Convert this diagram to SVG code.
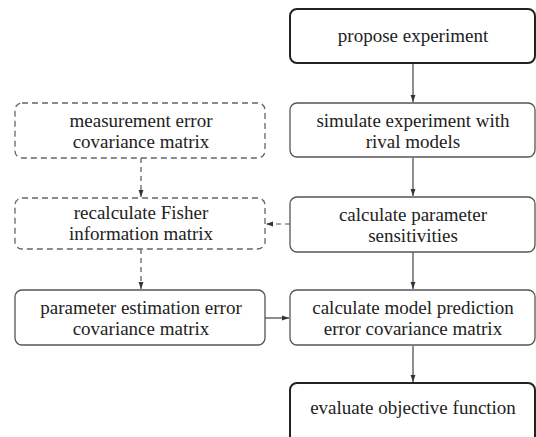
<svg xmlns="http://www.w3.org/2000/svg" width="536" height="437" viewBox="0 0 536 437">
<style>
text{font-family:'Liberation Serif','Times New Roman',serif;font-size:19px;fill:#222;text-anchor:middle}
.box{fill:#fff;stroke:#555;stroke-width:1.3}
.thick{fill:#fff;stroke:#222;stroke-width:2}
.dash{fill:#fff;stroke:#666;stroke-width:1.3;stroke-dasharray:6 4}
.c{fill:none;stroke:#444;stroke-width:1.2}
.cd{fill:none;stroke:#555;stroke-width:1.2;stroke-dasharray:5 4}
</style>
<defs>
<marker id="ah" viewBox="0 0 10 10" refX="10" refY="5" markerWidth="7" markerHeight="7" orient="auto" markerUnits="userSpaceOnUse">
<path d="M0,1.5 L10,5 L0,8.5 Z" fill="#333"/>
</marker>
</defs>
<rect width="536" height="437" fill="#fff"/>
<g id="connectors">
<line class="c" x1="413" y1="64" x2="413" y2="102" marker-end="url(#ah)"/>
<line class="c" x1="413" y1="158" x2="413" y2="196" marker-end="url(#ah)"/>
<line class="c" x1="413" y1="252" x2="413" y2="289" marker-end="url(#ah)"/>
<line class="c" x1="413" y1="346" x2="413" y2="382" marker-end="url(#ah)"/>
<line class="cd" x1="141" y1="158" x2="141" y2="197" marker-end="url(#ah)"/>
<line class="cd" x1="141" y1="249" x2="141" y2="289" marker-end="url(#ah)"/>
<line class="cd" x1="290" y1="224" x2="266" y2="224" marker-end="url(#ah)"/>
<line class="c" x1="265" y1="318" x2="289" y2="318" marker-end="url(#ah)"/>
</g>
<g id="propose">
<rect class="thick" x="290" y="9" width="245" height="54" rx="7"/>
<text x="413" y="42">propose experiment</text>
</g>
<g id="simulate">
<rect class="box" x="290" y="103" width="245" height="54" rx="7"/>
<text x="413" y="127">simulate experiment with</text>
<text x="413" y="148">rival models</text>
</g>
<g id="measurement">
<rect class="dash" x="15" y="103" width="250" height="55" rx="7"/>
<text x="141" y="127">measurement error</text>
<text x="141" y="148">covariance matrix</text>
</g>
<g id="sensitivities">
<rect class="box" x="290" y="197" width="245" height="55" rx="7"/>
<text x="413" y="221">calculate parameter</text>
<text x="413" y="242">sensitivities</text>
</g>
<g id="fisher">
<rect class="dash" x="15" y="198" width="250" height="51" rx="7"/>
<text x="141" y="219">recalculate Fisher</text>
<text x="141" y="240">information matrix</text>
</g>
<g id="estimation">
<rect class="box" x="15" y="290" width="250" height="55" rx="7"/>
<text x="141" y="314">parameter estimation error</text>
<text x="141" y="335">covariance matrix</text>
</g>
<g id="prediction">
<rect class="box" x="290" y="290" width="245" height="55" rx="7"/>
<text x="413" y="314">calculate model prediction</text>
<text x="413" y="335">error covariance matrix</text>
</g>
<g id="objective">
<rect class="thick" x="290" y="383" width="245" height="64" rx="7"/>
<text x="413" y="414">evaluate objective function</text>
</g>
</svg>
